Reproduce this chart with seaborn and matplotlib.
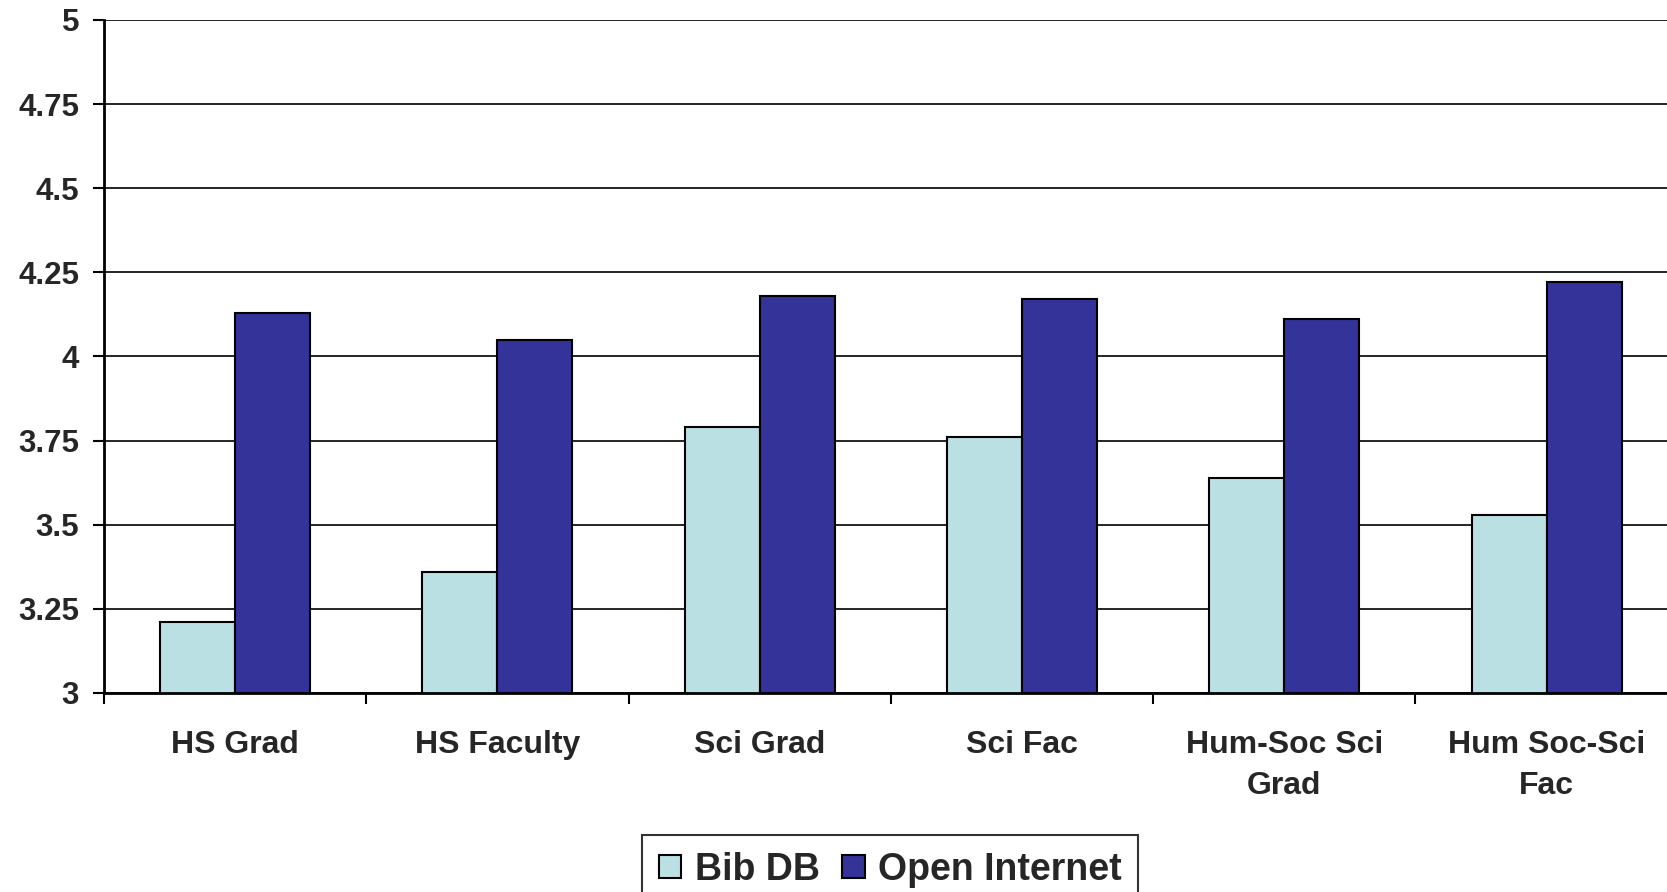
import pandas as pd
import matplotlib
matplotlib.use('Agg')
import matplotlib.pyplot as plt
import seaborn as sns

# ── Data ───────────────────────────────────────────────────────────────────────
groups = ['HS Grad', 'HS Faculty', 'Sci Grad', 'Sci Fac',
          'Hum-Soc Sci\nGrad', 'Hum Soc-Sci\nFac']
bib_db = [3.21, 3.36, 3.79, 3.76, 3.64, 3.53]
open_internet = [4.13, 4.05, 4.18, 4.17, 4.11, 4.22]
series_names = ['Bib DB', 'Open Internet']
y_ticks = [3, 3.25, 3.5, 3.75, 4, 4.25, 4.5, 4.75, 5]
y_tick_labels = ['3', '3.25', '3.5', '3.75', '4', '4.25', '4.5', '4.75', '5']

df = pd.DataFrame({
    'group': groups * 2,
    'series': [series_names[0]] * len(groups) + [series_names[1]] * len(groups),
    'value': bib_db + open_internet,
})

# ── Style ──────────────────────────────────────────────────────────────────────
sns.set_style('white')
plt.rcParams['font.family'] = ['Liberation Sans', 'DejaVu Sans']
plt.rcParams['font.weight'] = 'bold'

palette = {'Bib DB': '#BBE0E3', 'Open Internet': '#333399'}

fig = plt.figure(figsize=(16.67, 8.92), dpi=100)
ax = fig.add_axes([0.0624, 0.2231, 0.944, 0.7545])

sns.barplot(data=df, x='group', y='value', hue='series', order=groups,
            hue_order=series_names, palette=palette, width=0.572,
            saturation=1, edgecolor='black', linewidth=1.5, ax=ax)

ax.set_ylim(3, 5)
ax.set_xlim(-0.5, len(groups) - 0.5)
ax.set_yticks(y_ticks)
ax.set_yticklabels(y_tick_labels, fontsize=22.5, fontweight='bold')
ax.set_xticks(range(len(groups)))
ax.set_xticklabels(groups, fontsize=23, fontweight='bold', linespacing=1.45)
ax.set_xticks([i - 0.5 for i in range(len(groups) + 1)], minor=True)
ax.tick_params(axis='x', which='major', length=0, pad=27)
ax.tick_params(axis='x', which='minor', length=8, width=1.5, color='black',
               direction='out', bottom=True)
ax.tick_params(axis='y', length=8, width=1.5, color='black', direction='out',
               left=True, pad=10)
ax.set_xlabel('')
ax.set_ylabel('')

ax.yaxis.grid(True, color='black', linewidth=1.2)
ax.set_axisbelow(True)
for side in ['top', 'right']:
    ax.spines[side].set_visible(False)
for side in ['left', 'bottom']:
    ax.spines[side].set_color('black')
    ax.spines[side].set_linewidth(2)

sns.move_legend(ax, 'upper center', bbox_to_anchor=(0.534, 0.064),
                bbox_transform=fig.transFigure, ncol=2, title=None,
                frameon=True, fancybox=False, edgecolor='black',
                fontsize=27, handlelength=0.6, handleheight=0.6,
                handletextpad=0.35, columnspacing=0.6, borderpad=0.45,
                borderaxespad=0)
leg = ax.get_legend()
leg.get_frame().set_linewidth(1.5)
for t in leg.get_texts():
    t.set_fontweight('bold')

fig.savefig('out.png', dpi=100)
